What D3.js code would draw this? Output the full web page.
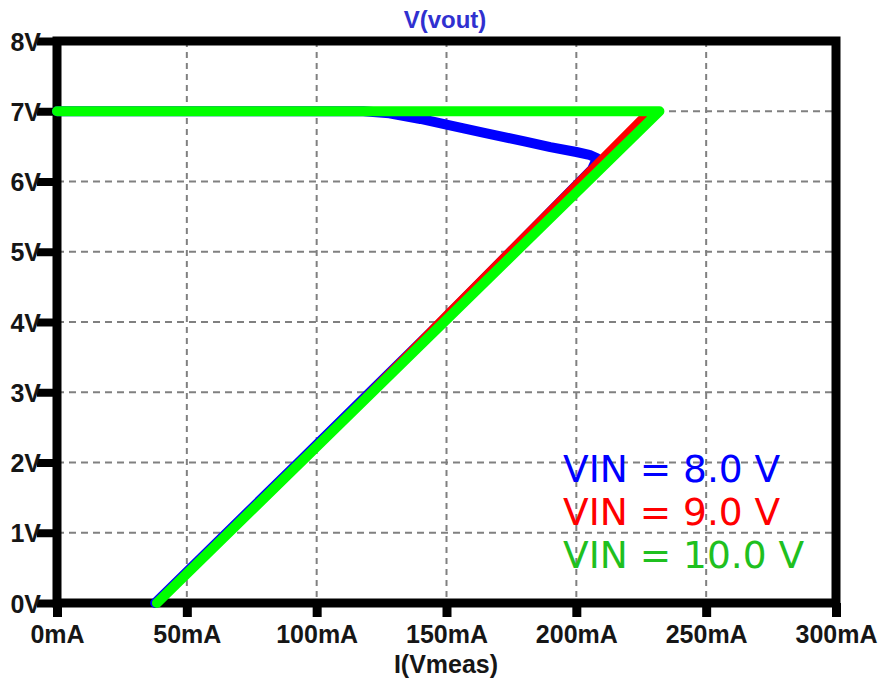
<!DOCTYPE html>
<html>
<head>
<meta charset="utf-8">
<script src="https://cdn.jsdelivr.net/npm/d3@7"></script>
<style>
  body { margin: 0; background: #fff; }
  svg { display: block; }
  .tick text { font-family: "Liberation Sans", Arial, sans-serif; font-weight: bold; font-size: 25px; fill: #161616; }
</style>
</head>
<body>
<div id="chart"></div>
<script>
// axis ticks
var currentTicks = [0, 50, 100, 150, 200, 250, 300];   // mA
var voltTicks = [0, 1, 2, 3, 4, 5, 6, 7, 8];          // V

// VIN = 8.0 V  (blue) - droops before folding back
var vin8Current = [0, 118, 128, 140, 150, 165, 180, 190, 200, 205, 208, 206, 148, 93, 37.8];
var vin8Volt    = [7, 7, 6.97, 6.89, 6.81, 6.69, 6.57, 6.49, 6.42, 6.38, 6.33, 6.17, 4.0, 2.0, 0];

// VIN = 9.0 V  (red)
var vin9Current = [0, 228, 150.5, 95.5, 38.2];
var vin9Volt    = [7, 7, 4.12, 2.05, 0];

// VIN = 10.0 V (green)
var vin10Current = [0, 232, 38.5];
var vin10Volt    = [7, 7, 0];

var legendLabels = ['VIN = 8.0 V', 'VIN = 9.0 V', 'VIN = 10.0 V'];
var lineColors = ['#0000ff', '#ff0000', '#00ff00'];
var textColors = ['#0000ff', '#ff0000', '#1fc01f'];

var width = 881, height = 681;
var plotL = 57, plotR = 836, plotT = 41, plotB = 603;

var svg = d3.select('#chart').append('svg')
    .attr('width', width)
    .attr('height', height);

var x = d3.scaleLinear().domain([0, 300]).range([plotL, plotR]);
var y = d3.scaleLinear().domain([0, 8]).range([plotB, plotT]);

// dashed grid
svg.append('g').selectAll('line')
    .data(currentTicks.slice(1, -1))
    .enter().append('line')
    .attr('x1', function(d){ return x(d); })
    .attr('x2', function(d){ return x(d); })
    .attr('y1', plotT).attr('y2', plotB)
    .attr('stroke', '#808080').attr('stroke-width', 2)
    .attr('stroke-dasharray', '6,5');

svg.append('g').selectAll('line')
    .data(voltTicks.slice(1, -1))
    .enter().append('line')
    .attr('y1', function(d){ return y(d); })
    .attr('y2', function(d){ return y(d); })
    .attr('x1', plotL).attr('x2', plotR)
    .attr('stroke', '#808080').attr('stroke-width', 2)
    .attr('stroke-dasharray', '7,5');

// axes (only the tick stubs + labels)
var xAxis = svg.append('g')
    .attr('transform', 'translate(0,' + plotB + ')')
    .call(d3.axisBottom(x).tickValues(currentTicks).tickSize(14).tickFormat(function(d){ return d + 'mA'; }));
xAxis.select('.domain').remove();
xAxis.selectAll('.tick line').attr('stroke', '#000').attr('stroke-width', 9);
xAxis.selectAll('.tick text').attr('y', 40).attr('dy', null);

var yAxis = svg.append('g')
    .attr('transform', 'translate(' + plotL + ',0)')
    .call(d3.axisLeft(y).tickValues(voltTicks).tickSize(20).tickFormat(function(d){ return d + 'V'; }));
yAxis.select('.domain').remove();
yAxis.selectAll('.tick line').attr('stroke', '#000').attr('stroke-width', 8);
yAxis.selectAll('.tick text').attr('x', -16).attr('dy', '0.36em');

// frame
svg.append('rect')
    .attr('x', plotL).attr('y', plotT)
    .attr('width', plotR - plotL).attr('height', plotB - plotT)
    .attr('fill', 'none').attr('stroke', '#000').attr('stroke-width', 9);

// curves
var line = d3.line()
    .x(function(d){ return x(d[0]); })
    .y(function(d){ return y(d[1]); });

var series = [
    d3.zip(vin8Current, vin8Volt),
    d3.zip(vin9Current, vin9Volt),
    d3.zip(vin10Current, vin10Volt)
];
var widths = [10, 8, 10];

svg.append('g').selectAll('path')
    .data(series)
    .enter().append('path')
    .attr('d', line)
    .attr('fill', 'none')
    .attr('stroke', function(d, i){ return lineColors[i]; })
    .attr('stroke-width', function(d, i){ return widths[i]; })
    .attr('stroke-linecap', 'round')
    .attr('stroke-linejoin', 'round');

// titles
svg.append('text')
    .attr('x', 445).attr('y', 28)
    .attr('text-anchor', 'middle')
    .attr('font-family', '"Liberation Sans", Arial, sans-serif')
    .attr('font-weight', 'bold').attr('font-size', 24)
    .attr('fill', '#3030d0')
    .text('V(vout)');

svg.append('text')
    .attr('x', 446).attr('y', 673)
    .attr('text-anchor', 'middle')
    .attr('font-family', '"Liberation Sans", Arial, sans-serif')
    .attr('font-weight', 'bold').attr('font-size', 25)
    .attr('fill', '#161616')
    .text('I(Vmeas)');

// legend text
svg.append('g').selectAll('text')
    .data(legendLabels)
    .enter().append('text')
    .attr('x', 563)
    .attr('y', function(d, i){ return 482 + i * 43; })
    .attr('font-family', '"DejaVu Sans", Verdana, sans-serif')
    .attr('font-size', 37.5)
    .attr('fill', function(d, i){ return textColors[i]; })
    .text(function(d){ return d; });
</script>
</body>
</html>
